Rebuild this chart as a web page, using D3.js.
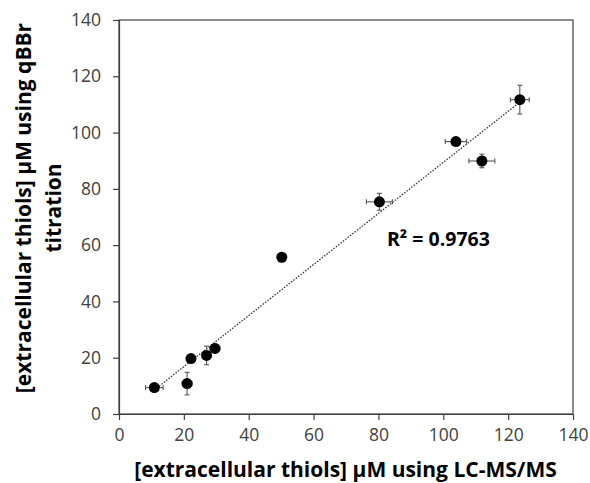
<!DOCTYPE html>
<html>
<head>
<meta charset="utf-8">
<script src="https://cdn.jsdelivr.net/npm/d3@7"></script>
<style>
  body { margin: 0; background: #fff; }
  text { font-family: "Open Sans", sans-serif; }
</style>
</head>
<body>
<script>
// values
var lcms     = [10.9, 21.0, 22.2, 27.0, 29.6, 50.2, 80.3, 103.9, 111.9, 123.6];
var lcmsErr  = [2.7, 1.5, 1.0, 1.0, 1.5, 1.0, 4.0, 3.3, 4.0, 2.9];
var qbbr     = [9.4, 10.8, 19.7, 20.8, 23.3, 55.7, 75.4, 96.8, 89.9, 111.7];
var qbbrErr  = [0.8, 4.0, 1.0, 3.3, 1.5, 1.2, 3.0, 1.0, 2.4, 5.1];
var xTicks   = [0, 20, 40, 60, 80, 100, 120, 140];
var yTicks   = [0, 20, 40, 60, 80, 100, 120, 140];
var rSquared = "R² = 0.9763";

var width = 590, height = 483;
var margin = { top: 20, right: 17, bottom: 69, left: 119 };

var svg = d3.select("body").append("svg")
            .attr("width", width)
            .attr("height", height);

var x = d3.scaleLinear().domain([0, 140]).range([margin.left, width - margin.right]);
var y = d3.scaleLinear().domain([0, 140]).range([height - margin.bottom, margin.top]);

var axisColor = "#404040";

// frame (top + right)
svg.append("rect")
   .attr("x", x(0))
   .attr("y", y(140))
   .attr("width", x(140) - x(0))
   .attr("height", y(0) - y(140))
   .attr("fill", "none")
   .attr("stroke", axisColor)
   .attr("stroke-width", 1.2);

// axes
var xAxis = svg.append("g")
               .attr("transform", "translate(0," + y(0) + ")")
               .call(d3.axisBottom(x).tickValues(xTicks).tickSize(6).tickSizeOuter(0).tickPadding(9));
var yAxis = svg.append("g")
               .attr("transform", "translate(" + x(0) + ",0)")
               .call(d3.axisLeft(y).tickValues(yTicks).tickSize(6).tickSizeOuter(0).tickPadding(12));

[xAxis, yAxis].forEach(function (g) {
  g.select(".domain").attr("stroke", axisColor).attr("stroke-width", 1.2);
  g.selectAll(".tick line").attr("stroke", axisColor).attr("stroke-width", 1.2);
  g.selectAll(".tick text")
   .attr("fill", "#404040")
   .style("font-size", "17.5px")
   .style("font-family", "'Open Sans', sans-serif");
});

// linear fit through the points
var mx = d3.mean(lcms), my = d3.mean(qbbr);
var sxy = d3.sum(lcms, function (d, i) { return (d - mx) * (qbbr[i] - my); });
var sxx = d3.sum(lcms, function (d) { return (d - mx) * (d - mx); });
var slope = sxy / sxx, intercept = my - slope * mx;
var x0 = d3.min(lcms), x1 = d3.max(lcms);

svg.append("line")
   .attr("x1", x(x0))
   .attr("y1", y(intercept + slope * x0))
   .attr("x2", x(x1))
   .attr("y2", y(intercept + slope * x1))
   .attr("stroke", "#333")
   .attr("stroke-width", 1.3)
   .attr("stroke-dasharray", "1.5,1.5");

// error bars
var errColor = "#555";
var cap = 2.5;
var bars = svg.append("g").selectAll("g")
              .data(lcms)
              .enter()
              .append("g");

bars.append("line")
    .attr("x1", function (d) { return x(d); })
    .attr("x2", function (d) { return x(d); })
    .attr("y1", function (d, i) { return y(qbbr[i] - qbbrErr[i]); })
    .attr("y2", function (d, i) { return y(qbbr[i] + qbbrErr[i]); });
bars.append("line")
    .attr("x1", function (d, i) { return x(d - lcmsErr[i]); })
    .attr("x2", function (d, i) { return x(d + lcmsErr[i]); })
    .attr("y1", function (d, i) { return y(qbbr[i]); })
    .attr("y2", function (d, i) { return y(qbbr[i]); });
// caps
bars.append("line")
    .attr("x1", function (d) { return x(d) - cap; })
    .attr("x2", function (d) { return x(d) + cap; })
    .attr("y1", function (d, i) { return y(qbbr[i] + qbbrErr[i]); })
    .attr("y2", function (d, i) { return y(qbbr[i] + qbbrErr[i]); });
bars.append("line")
    .attr("x1", function (d) { return x(d) - cap; })
    .attr("x2", function (d) { return x(d) + cap; })
    .attr("y1", function (d, i) { return y(qbbr[i] - qbbrErr[i]); })
    .attr("y2", function (d, i) { return y(qbbr[i] - qbbrErr[i]); });
bars.append("line")
    .attr("x1", function (d, i) { return x(d - lcmsErr[i]); })
    .attr("x2", function (d, i) { return x(d - lcmsErr[i]); })
    .attr("y1", function (d, i) { return y(qbbr[i]) - cap; })
    .attr("y2", function (d, i) { return y(qbbr[i]) + cap; });
bars.append("line")
    .attr("x1", function (d, i) { return x(d + lcmsErr[i]); })
    .attr("x2", function (d, i) { return x(d + lcmsErr[i]); })
    .attr("y1", function (d, i) { return y(qbbr[i]) - cap; })
    .attr("y2", function (d, i) { return y(qbbr[i]) + cap; });
bars.selectAll("line")
    .attr("stroke", errColor)
    .attr("stroke-width", 1.1);

// points
svg.append("g").selectAll("circle")
   .data(lcms)
   .enter()
   .append("circle")
   .attr("cx", function (d) { return x(d); })
   .attr("cy", function (d, i) { return y(qbbr[i]); })
   .attr("r", 5.5)
   .attr("fill", "#000");

// R² label
svg.append("text")
   .attr("x", 387)
   .attr("y", 246)
   .style("font-size", "19.5px")
   .style("font-weight", "bold")
   .attr("fill", "#000")
   .text(rSquared);

// axis titles
svg.append("text")
   .attr("x", 345.5)
   .attr("y", 477)
   .attr("text-anchor", "middle")
   .style("font-size", "21px")
   .style("font-weight", "bold")
   .text("[extracellular thiols] µM using LC-MS/MS");

var yTitle = svg.append("text")
                .attr("transform", "translate(31,208) rotate(-90)")
                .attr("text-anchor", "middle")
                .style("font-size", "21px")
                .style("font-weight", "bold");
yTitle.append("tspan").attr("x", 0).attr("y", 0).text("[extracellular thiols] µM using qBBr");
yTitle.append("tspan").attr("x", 0).attr("y", 30).text("titration");
</script>
</body>
</html>
